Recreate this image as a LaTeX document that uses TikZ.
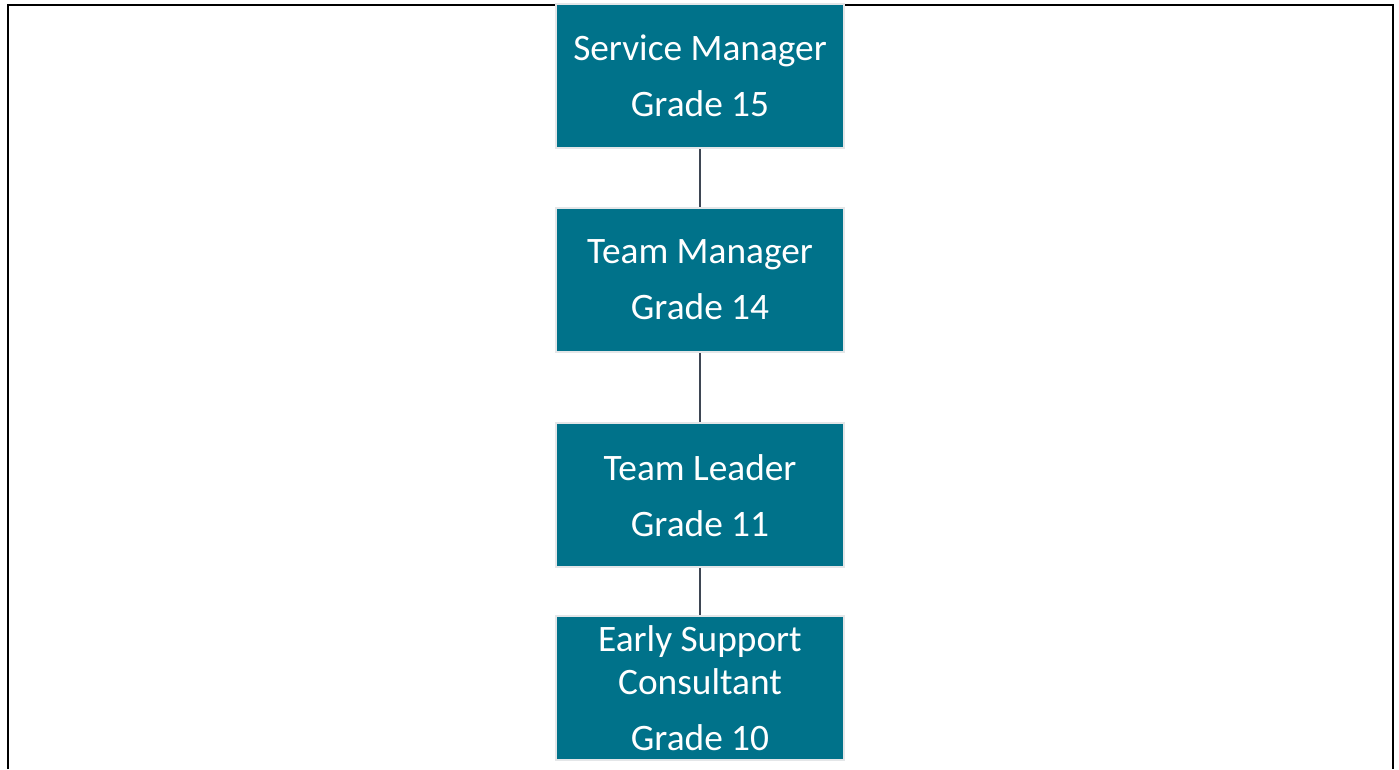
\documentclass[tikz,border=0pt]{standalone}
\usepackage{fontspec}
\setmainfont{Carlito}
\usepackage{tikz}
\usetikzlibrary{positioning}
\usepackage{xcolor}
\definecolor{gradeteal}{RGB}{0,114,138}
\definecolor{gradeedge}{RGB}{228,230,232}
\definecolor{linkgrey}{RGB}{62,70,84}

\begin{document}
\begin{tikzpicture}[x=0.75pt,y=-0.75pt]
	\useasboundingbox (0,0) rectangle (1399,769);
	% open frame behind the chart
	\draw[line width=2.2pt] (8,769) -- (8,5) -- (1393,5) -- (1393,769);

	\begin{scope}[every node/.style={rectangle,draw=gradeedge,fill=gradeteal,line width=1.5pt,text=white,align=center,minimum width=216pt,minimum height=108pt,inner sep=0pt,font=\fontsize{28pt}{32.25pt}\selectfont}]
		\node (1) at (700,76) {Service Manager\\[9.75pt]Grade 15};
		\node[below =43.5pt of 1] (2) {Team Manager\\[9.75pt]Grade 14};
		\node[below =52.1pt of 2] (3) {Team Leader\\[9.75pt]Grade 11};
		\node[below =35.25pt of 3] (4) {Early Support\\Consultant\\[9.75pt]Grade 10};
	\end{scope}
	\begin{scope}[link/.style={draw=linkgrey,line width=2pt}]
		\draw[link] (1) -- (2);
		\draw[link] (2) -- (3);
		\draw[link] (3) -- (4);
	\end{scope}
\end{tikzpicture}
\end{document}
